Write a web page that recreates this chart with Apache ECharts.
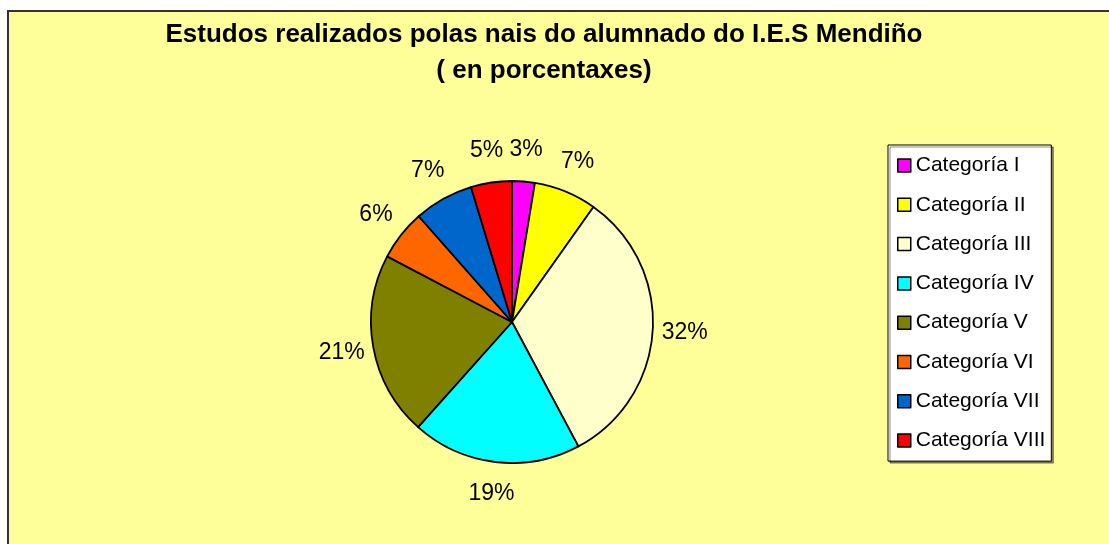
<!DOCTYPE html>
<html>
<head>
<meta charset="utf-8">
<title>Estudos realizados polas nais do alumnado</title>
<script src="https://cdn.jsdelivr.net/npm/echarts@6/dist/echarts.min.js"></script>
<style>
    html,body{margin:0;padding:0;background:#fff;overflow:hidden;width:1109px;height:544px;}
    #frame{position:absolute;left:7px;top:10px;width:1200px;height:600px;border-left:2px solid #333;border-top:2px solid #333;background:#ffff99;}
    #chart{position:absolute;left:0;top:0;width:1109px;height:544px;}
</style>
</head>
<body>
<div id="frame"></div>
<div id="chart"></div>
<script>
    // categorias e porcentaxes
    const categories = ['Categoría I','Categoría II','Categoría III','Categoría IV','Categoría V','Categoría VI','Categoría VII','Categoría VIII'];
    const percentages = [2.6, 7.2, 32.4, 19.4, 21.1, 5.8, 6.8, 4.7];
    const palette = ['#ff00ff','#ffff00','#ffffcc','#00ffff','#808000','#ff6600','#0066cc','#ff0000'];

    const font = "'Liberation Sans', Arial, sans-serif";
    const pieData = categories.map((name, i) => ({name: name, value: percentages[i]}));

    const chart = echarts.init(document.getElementById('chart'), null, {renderer: 'canvas'});
    chart.setOption({
        animation: false,
        color: palette,
        textStyle: {fontFamily: font},
        title: {
            text: 'Estudos realizados polas nais do alumnado do I.E.S Mendiño\n( en porcentaxes)',
            left: 544,
            top: 17,
            padding: 0,
            textAlign: 'center',
            textStyle: {fontFamily: font, fontSize: 26, fontWeight: 'bold', lineHeight: 36, color: '#000'}
        },
        legend: {
            orient: 'vertical',
            left: 888,
            top: 145,
            padding: [10, 6, 10, 9],
            itemGap: 18.3,
            itemWidth: 13,
            itemHeight: 13,
            icon: 'rect',
            backgroundColor: '#fff',
            borderColor: '#000',
            borderWidth: 1,
            shadowColor: 'rgba(0,0,0,0.45)',
            shadowOffsetX: 2,
            shadowOffsetY: 2,
            selectedMode: false,
            itemStyle: {borderColor: '#000', borderWidth: 1.5},
            textStyle: {fontFamily: font, fontSize: 21, color: '#000'},
            data: categories
        },
        series: [
            {
                name: 'porcentaxes',
                type: 'pie',
                center: [512, 322],
                radius: 141,
                startAngle: 90,
                clockwise: true,
                silent: true,
                label: {show: false},
                labelLine: {show: false},
                itemStyle: {borderColor: '#000', borderWidth: 1.8},
                data: pieData
            },
            {
                // aro invisible so para colocar as etiquetas fora da torta
                name: 'etiquetas',
                type: 'pie',
                center: [512, 322],
                radius: [141, 199],
                startAngle: 90,
                clockwise: true,
                silent: true,
                itemStyle: {color: 'rgba(0,0,0,0)', borderWidth: 0},
                label: {
                    show: true,
                    position: 'inside',
                    color: '#000',
                    fontFamily: font,
                    fontSize: 23,
                    formatter: function (p) {
                        return Math.round(p.percent) + '%';
                    }
                },
                labelLine: {show: false},
                emphasis: {disabled: true},
                data: pieData
            }
        ]
    });
    window.addEventListener('resize', chart.resize);
</script>
</body>
</html>
